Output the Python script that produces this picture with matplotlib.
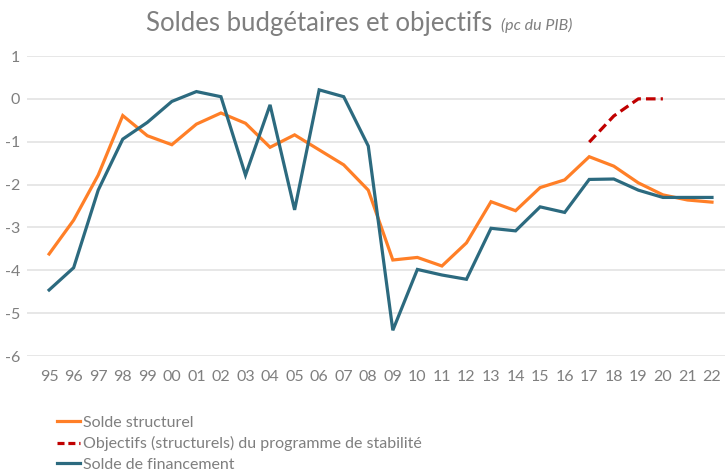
import numpy as np
import matplotlib
matplotlib.use("Agg")
import matplotlib.pyplot as plt
from matplotlib.lines import Line2D

# data
years = ["95", "96", "97", "98", "99", "00", "01", "02", "03", "04", "05", "06", "07",
         "08", "09", "10", "11", "12", "13", "14", "15", "16", "17", "18", "19", "20",
         "21", "22"]
solde_structurel = [-3.62, -2.83, -1.78, -0.39, -0.86, -1.07, -0.59, -0.33, -0.57, -1.13,
                    -0.84, -1.19, -1.54, -2.13, -3.76, -3.70, -3.90, -3.36, -2.40, -2.61,
                    -2.07, -1.89, -1.35, -1.57, -1.96, -2.24, -2.36, -2.41]
solde_financement = [-4.46, -3.94, -2.13, -0.94, -0.55, -0.06, 0.17, 0.05, -1.78, -0.14,
                     -2.59, 0.21, 0.05, -1.10, -5.40, -3.98, -4.11, -4.21, -3.02, -3.08,
                     -2.52, -2.65, -1.88, -1.87, -2.13, -2.30, -2.30, -2.30]
objectif_years = ["17", "18", "19", "20"]
objectifs = [-1.01, -0.40, 0.0, 0.0]

labels = ["Solde structurel", "Objectifs (structurels) du programme de stabilité",
          "Solde de financement"]

ORANGE = "#ff7f27"
RED = "#c00000"
BLUE = "#2c6a7f"
GREY = "#7f7f7f"

plt.rcParams["font.family"] = ["Lato", "DejaVu Sans"]
plt.rcParams["axes.unicode_minus"] = False

fig = plt.figure(figsize=(7.25, 4.75), dpi=100)
ax = fig.add_axes([27 / 725, 1 - 356 / 475, 698 / 725, 300 / 475])

x = np.arange(len(years))
x_obj = np.array([years.index(y) for y in objectif_years])

ax.plot(x, solde_structurel, color=ORANGE, lw=2.3, solid_joinstyle="miter", zorder=3)
ax.plot(x_obj, objectifs, color=RED, lw=2.3, ls=(0, (3, 1.6)), zorder=3)
ax.plot(x, solde_financement, color=BLUE, lw=2.3, solid_joinstyle="miter", zorder=3)

ax.set_xlim(-0.9, len(years) - 1 + 0.53)
ax.set_ylim(-6, 1)
ax.set_yticks(range(-6, 2))
ax.set_xticks(x)
ax.set_xticklabels(years)

ax.grid(axis="y", color="#e3e3e3", lw=1.2)
ax.set_axisbelow(True)
for s in ax.spines.values():
    s.set_visible(False)
ax.tick_params(length=0, colors=GREY, labelsize=11.5)
ax.tick_params(axis="x", pad=10)
ax.tick_params(axis="y", pad=5)

title = fig.text(0.202, 0.950, "Soldes budgétaires et objectifs", fontsize=18.5,
                 color=GREY, ha="left", va="center")
ax.annotate("(pc du PIB)", xy=(1, 0.5), xycoords=title, xytext=(6, -1),
            textcoords="offset points", fontsize=11.5, style="italic", color=GREY,
            va="center", ha="left")

handles = [Line2D([], [], color=ORANGE, lw=2.3),
           Line2D([], [], color=RED, lw=2.3, ls=(0, (2.2, 1.2))),
           Line2D([], [], color=BLUE, lw=2.3)]
fig.legend(handles, labels, loc="upper left", bbox_to_anchor=(0.07, 0.138),
           frameon=False, fontsize=11.5, labelcolor=GREY, handlelength=1.45,
           handletextpad=0.15, labelspacing=0.4, borderaxespad=0)

fig.savefig("out.png", dpi=100)
